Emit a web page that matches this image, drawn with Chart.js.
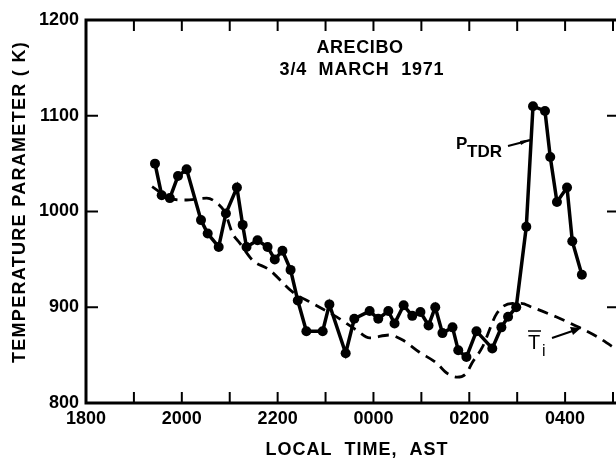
<!DOCTYPE html>
<html lang="en">
<head>
<meta charset="utf-8">
<script src="https://cdn.jsdelivr.net/npm/chart.js"></script>
<style>
  html, body { margin: 0; padding: 0; background: #fff; overflow: hidden; }
  #wrap { width: 616px; height: 458px; overflow: hidden; }
</style>
</head>
<body>
<div id="wrap"><canvas id="myChart" width="624" height="458"></canvas></div>
<script>
// local time in hours after 1800 (24 = midnight, 28 = 0400)
const tdrHours = [19.44, 19.58, 19.75, 19.92, 20.10, 20.40, 20.54, 20.77, 20.92, 21.15,
  21.27, 21.35, 21.58, 21.79, 21.94, 22.10, 22.27, 22.42, 22.60, 22.94,
  23.08, 23.42, 23.60, 23.92, 24.10, 24.31, 24.44, 24.63, 24.81, 24.98,
  25.15, 25.29, 25.44, 25.65, 25.77, 25.94, 26.15, 26.48, 26.67, 26.81,
  26.98, 27.19, 27.33, 27.58, 27.69, 27.83, 28.04, 28.15, 28.35];
const tdrValues = [1050, 1017, 1014, 1037, 1044, 991, 977, 963, 998, 1025,
  986, 963, 970, 963, 950, 959, 939, 907, 875, 875,
  903, 852, 888, 896, 888, 896, 883, 902, 891, 895,
  881, 900, 873, 879, 855, 848, 875, 857, 879, 890,
  900, 984, 1110, 1105, 1057, 1010, 1025, 969, 934];

const tiHours = [19.38, 19.75, 20.06, 20.52, 20.73, 20.9, 21.06, 21.21, 21.48, 21.83,
  22.31, 22.73, 23.23, 23.65, 23.92, 24.33, 24.6, 24.96, 25.31, 25.54,
  25.75, 25.94, 26.06, 26.27, 26.58, 26.9, 27.08, 27.31, 27.81, 28.29,
  28.71, 29.1];
const tiValues = [1026, 1014, 1012, 1014, 1009, 999, 977, 967, 949, 939,
  916, 904, 890, 876, 868, 871, 866, 853, 842, 831,
  827, 831, 842, 858, 894, 904, 904, 900, 890, 879,
  868, 855];

const hourTicks = [19, 20, 21, 22, 23, 24, 25, 26, 27, 28, 29];
const labelHours = [18, 20, 22, 24, 26, 28];
const timeLabels = ['1800', '2000', '2200', '0000', '0200', '0400'];
const tempTicks = [900, 1000, 1100];

const FONT = 'Liberation Sans, Arial, sans-serif';

const framePlugin = {
  id: 'frame',
  afterDraw(chart) {
    const { ctx, chartArea: a, scales: { x, y } } = chart;
    const line = (x1, y1, x2, y2) => { ctx.beginPath(); ctx.moveTo(x1, y1); ctx.lineTo(x2, y2); ctx.stroke(); };
    ctx.save();
    ctx.strokeStyle = '#000';
    ctx.fillStyle = '#000';
    ctx.lineWidth = 3;
    ctx.strokeRect(a.left, a.top, a.right - a.left, a.bottom - a.top);
    ctx.lineWidth = 2;
    hourTicks.forEach(h => {
      const px = x.getPixelForValue(h);
      line(px, a.bottom, px, a.bottom - 11);
      line(px, a.top, px, a.top + 11);
    });
    tempTicks.forEach(t => {
      const py = y.getPixelForValue(t);
      line(a.left, py, a.left + 12, py);
      line(a.right, py, a.right - 12, py);
    });

    // titles
    ctx.textBaseline = 'alphabetic';
    ctx.textAlign = 'center';
    ctx.font = 'bold 18px ' + FONT;
    ctx.letterSpacing = '1px';
    ctx.fillText('LOCAL  TIME,  AST', 357, 455);
    ctx.letterSpacing = '0.6px';
    ctx.fillText('ARECIBO', 360, 53);
    ctx.letterSpacing = '0.8px';
    ctx.fillText('3/4  MARCH  1971', 362, 75);
    ctx.save();
    ctx.translate(25, 202);
    ctx.rotate(-Math.PI / 2);
    ctx.letterSpacing = '1.3px';
    ctx.fillText('TEMPERATURE PARAMETER ( K)', 0, 0);
    ctx.restore();

    // P_TDR label
    ctx.letterSpacing = '0px';
    ctx.textAlign = 'left';
    ctx.font = 'bold 17px ' + FONT;
    ctx.fillText('P', 456, 149);
    ctx.fillText('TDR', 467, 157);
    ctx.lineWidth = 2;
    line(508, 146, 531, 140);
    ctx.beginPath();
    ctx.moveTo(520, 141); ctx.lineTo(531, 139); ctx.lineTo(521, 145); ctx.closePath(); ctx.fill();

    // Ti label
    ctx.font = '20px ' + FONT;
    ctx.fillText('T', 528, 349);
    ctx.lineWidth = 1.5;
    line(528, 331, 541, 331);
    ctx.font = '16px ' + FONT;
    ctx.fillText('i', 542, 356);
    ctx.lineWidth = 2;
    line(552, 338, 574, 330.5);
    ctx.beginPath();
    ctx.moveTo(581, 328); ctx.lineTo(570, 327); ctx.lineTo(573, 335); ctx.closePath(); ctx.fill();
    ctx.restore();
  }
};

const ctx = document.getElementById('myChart').getContext('2d');
const myChart = new Chart(ctx, {
  type: 'line',
  data: {
    datasets: [
      {
        label: 'Ti',
        data: tiHours.map((h, i) => ({ x: h, y: tiValues[i] })),
        borderColor: '#000',
        borderWidth: 2.8,
        borderDash: [11, 7],
        pointRadius: 0,
        cubicInterpolationMode: 'monotone',
        fill: false,
      },
      {
        label: 'PTDR',
        data: tdrHours.map((h, i) => ({ x: h, y: tdrValues[i] })),
        borderColor: '#000',
        backgroundColor: '#000',
        borderWidth: 3.5,
        pointRadius: 5,
        pointBorderWidth: 0,
        pointBackgroundColor: '#000',
        tension: 0,
        fill: false,
      },
    ],
  },
  options: {
    responsive: false,
    animation: false,
    layout: { padding: { top: 20, right: 4, left: 0, bottom: 0 } },
    plugins: { legend: { display: false }, tooltip: { enabled: false } },
    scales: {
      x: {
        type: 'linear',
        min: 18,
        max: 29.125,
        afterFit(s) { s.height = 55; },
        grid: { display: false, drawTicks: false },
        border: { display: false },
        ticks: {
          stepSize: 1,
          autoSkip: false,
          maxRotation: 0,
          padding: 5,
          color: '#000',
          font: { family: FONT, weight: 'bold', size: 18 },
          callback(v) {
            const i = labelHours.indexOf(v);
            return i < 0 ? '' : timeLabels[i];
          },
        },
      },
      y: {
        type: 'linear',
        min: 800,
        max: 1200,
        afterFit(s) { s.width = 86; },
        grid: { display: false, drawTicks: false },
        border: { display: false },
        ticks: {
          stepSize: 100,
          padding: 7,
          color: '#000',
          font: { family: FONT, weight: 'bold', size: 18 },
          callback(v) { return String(v); },
        },
      },
    },
  },
  plugins: [framePlugin],
});
</script>
</body>
</html>
